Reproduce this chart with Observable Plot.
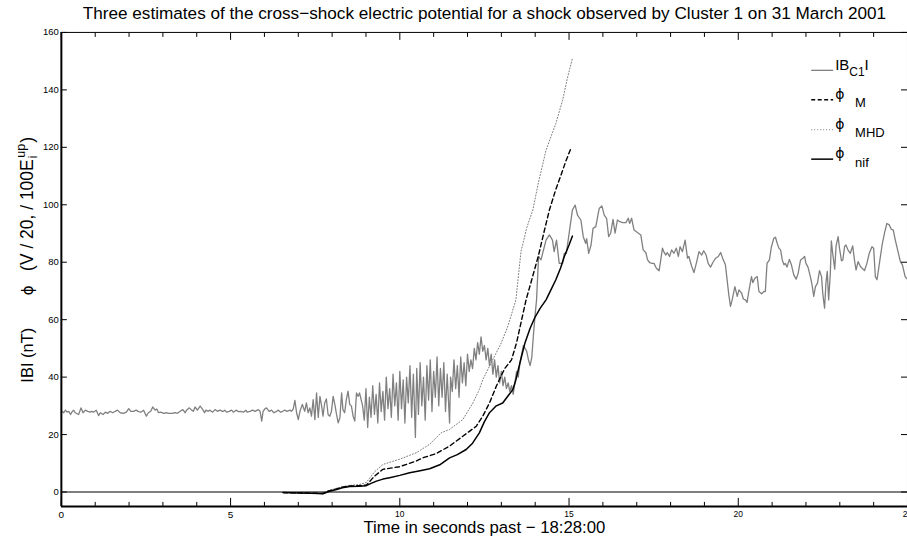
<!DOCTYPE html>
<html><head><meta charset="utf-8">
<script src="https://cdn.jsdelivr.net/npm/d3@7"></script>
<script src="https://cdn.jsdelivr.net/npm/@observablehq/plot@0.6"></script>
<style>
html,body{margin:0;padding:0;background:#fff;overflow:hidden}
#wrap{width:907px;height:539px;overflow:hidden;position:relative}
svg{font-family:"Liberation Sans",Arial,Helvetica,sans-serif}
</style></head><body><div id="wrap"></div>
<script>
// |B| from Cluster 1 (nT), [seconds past 18:28:00, value]
const bQuiet = [[0.00,27.6],[0.02,28.1],[0.07,27.6],[0.12,28.5],[0.17,27.8],[0.22,28.1],[0.27,27.0],[0.31,27.8],[0.36,28.5],[0.41,27.6],[0.51,27.0],[0.58,29.3],[0.64,27.6],[0.71,28.5],[0.78,28.1],[0.85,27.8],[0.90,28.1],[0.95,27.8],[1.03,28.5],[1.10,26.6],[1.15,27.6],[1.23,27.0],[1.30,27.8],[1.37,27.4],[1.44,28.1],[1.52,27.6],[1.59,28.1],[1.66,28.5],[1.74,27.6],[1.84,27.4],[1.92,27.8],[1.99,29.0],[2.05,28.1],[2.13,28.1],[2.21,28.5],[2.28,28.0],[2.35,27.8],[2.43,28.5],[2.51,26.4],[2.57,27.6],[2.64,28.1],[2.70,29.6],[2.77,28.5],[2.82,28.9],[2.87,27.6],[2.94,27.8],[3.02,27.4],[3.10,27.6],[3.16,27.4],[3.26,27.4],[3.36,27.6],[3.43,27.4],[3.51,28.1],[3.59,28.7],[3.66,27.6],[3.70,28.5],[3.78,29.3],[3.85,28.5],[3.90,28.1],[3.95,29.6],[4.02,28.5],[4.10,29.9],[4.18,28.7],[4.23,27.6],[4.27,28.5],[4.34,28.1],[4.39,28.5],[4.47,27.8],[4.54,28.7],[4.61,28.1],[4.69,28.5],[4.77,28.0],[4.83,28.5],[4.88,27.8],[4.96,28.1],[5.03,28.5],[5.08,27.8],[5.16,28.5],[5.23,28.0],[5.30,28.1],[5.38,27.8],[5.45,28.5],[5.49,27.8],[5.57,28.1],[5.65,28.5],[5.72,28.1],[5.82,28.7],[5.87,28.1],[5.92,24.7],[5.96,28.1],[6.01,28.9],[6.06,29.3],[6.14,28.1],[6.21,28.5],[6.28,27.6],[6.36,28.1],[6.41,28.5],[6.48,27.8],[6.54,28.1],[6.60,28.5],[6.67,28.1],[6.75,28.5],[6.80,28.1],[6.85,28.9]];
const bFoot = [[6.90,31.9],[6.95,27.6],[7.00,25.2],[7.05,28.1],[7.12,30.5],[7.19,28.1],[7.24,31.0],[7.29,27.6],[7.34,29.3],[7.39,26.4],[7.44,32.2],[7.49,25.2],[7.54,34.5],[7.59,26.0],[7.64,33.3],[7.69,29.9],[7.73,26.4],[7.78,31.0],[7.83,32.4],[7.88,27.0],[7.93,26.4],[7.98,28.1],[8.03,33.3],[8.08,30.5],[8.13,27.0],[8.18,24.1],[8.23,25.8],[8.28,34.5],[8.32,28.7],[8.37,27.6],[8.42,32.2],[8.47,35.1],[8.52,30.5],[8.57,29.9],[8.62,26.4],[8.67,24.7],[8.72,34.5],[8.77,33.3],[8.81,34.5],[8.9,30],[8.95,25],[9.0,36],[9.05,22.5],[9.1,33],[9.15,26],[9.2,37],[9.25,27],[9.3,34],[9.35,24],[9.4,38],[9.45,28],[9.5,35],[9.55,25],[9.6,40],[9.65,29],[9.7,36],[9.75,26],[9.8,41],[9.85,30],[9.9,38],[9.95,25],[10.0,42],[10.05,29],[10.1,39],[10.15,24],[10.2,40],[10.25,31],[10.3,44],[10.35,26],[10.4,41],[10.46,19],[10.5,43],[10.55,27],[10.6,45],[10.65,30],[10.7,40],[10.75,25],[10.8,44],[10.85,32],[10.9,46],[10.95,28],[11.0,42],[11.05,33],[11.1,47],[11.15,30],[11.2,43],[11.25,33],[11.3,45],[11.35,28],[11.4,41],[11.47,24],[11.5,40],[11.55,35],[11.6,46],[11.65,36],[11.7,44],[11.75,33],[11.8,47],[11.85,38],[11.9,45],[11.95,37],[12.0,48],[12.05,42],[12.1,46],[12.15,43],[12.2,50],[12.25,46],[12.3,52],[12.35,48],[12.4,54],[12.45,49],[12.5,51],[12.55,46],[12.6,50],[12.65,44],[12.7,48],[12.75,41],[12.8,46],[12.85,40],[12.9,44],[12.95,38],[13.0,42],[13.05,37],[13.1,40],[13.15,36],[13.2,38],[13.25,35],[13.3,37],[13.35,34],[13.4,38],[13.45,42],[13.5,40],[13.55,45],[13.6,48],[13.65,51],[13.7,50],[13.75,49],[13.8,46],[13.85,44],[13.9,47],[13.95,55],[14.0,62]];
const bRamp = [[14.04,66.9],[14.10,82.0],[14.17,80.8],[14.32,87.7],[14.42,89.5],[14.51,87.7],[14.56,83.7],[14.63,87.7],[14.71,79.6],[14.81,79.6],[14.86,83.1],[14.92,83.1],[15.03,92.4],[15.10,98.2],[15.18,99.9],[15.25,96.4],[15.35,94.7],[15.42,88.9],[15.49,86.6],[15.52,88.2],[15.58,83.1],[15.65,86.0],[15.71,91.8],[15.79,92.4]];
const bDown = [[15.89,98.7],[15.97,99.6],[16.04,96.4],[16.11,95.3],[16.17,88.9],[16.23,90.1],[16.30,94.9],[16.36,90.1],[16.43,94.7],[16.50,94.1],[16.58,93.8],[16.68,93.8],[16.75,95.3],[16.79,93.5],[16.85,95.3],[16.92,91.2],[17.05,90.1],[17.12,89.5],[17.19,84.3],[17.27,83.3],[17.32,80.8],[17.38,79.9],[17.46,79.6],[17.51,79.6],[17.58,77.9],[17.66,77.0],[17.71,80.8],[17.76,84.9],[17.81,83.4],[17.86,82.5],[17.90,83.4],[17.97,82.0],[18.03,84.3],[18.10,83.1],[18.17,84.9],[18.23,82.0],[18.28,85.4],[18.35,83.7],[18.43,87.7],[18.50,81.4],[18.54,82.0],[18.62,78.7],[18.69,76.4],[18.76,79.6],[18.84,83.7],[18.92,82.5],[18.98,84.0],[19.05,82.5],[19.11,79.6],[19.18,78.3],[19.25,79.9],[19.33,81.4],[19.41,82.0],[19.48,83.4],[19.55,81.0],[19.62,79.1],[19.72,68.7],[19.77,64.6],[19.82,66.9],[19.90,71.5],[19.97,68.1],[20.02,70.4],[20.10,69.2],[20.15,67.2],[20.21,66.9],[20.26,66.0],[20.31,69.8],[20.39,75.0],[20.43,72.9],[20.49,74.4],[20.56,75.0],[20.61,69.8],[20.69,69.0],[20.76,69.8],[20.80,69.8],[20.85,79.6],[20.92,80.8],[20.98,85.4],[21.05,88.3],[21.10,88.7],[21.15,86.6],[21.20,84.9],[21.25,84.3],[21.30,80.8],[21.35,79.1],[21.39,79.6],[21.44,78.3],[21.51,81.0],[21.57,79.1],[21.64,75.6],[21.71,74.1],[21.77,76.2],[21.84,80.8],[21.91,81.4],[21.96,82.0],[22.00,79.6],[22.06,78.3],[22.13,75.0],[22.18,72.1],[22.23,68.1],[22.28,71.5],[22.34,72.7],[22.40,77.1],[22.46,75.0],[22.50,68.7],[22.55,64.0],[22.59,72.7],[22.63,76.8],[22.67,66.9],[22.72,76.2],[22.75,87.4],[22.79,83.1],[22.85,77.6],[22.89,85.7],[22.95,88.9],[22.99,84.9],[23.05,80.5],[23.09,80.8],[23.14,85.4],[23.18,86.0],[23.24,84.3],[23.31,83.1],[23.38,85.7],[23.44,80.2],[23.48,77.3],[23.54,80.2],[23.61,78.5],[23.66,77.9],[23.73,77.1],[23.80,79.6],[23.87,83.1],[23.95,85.4],[24.00,84.9],[24.05,75.0],[24.10,73.9],[24.17,79.6],[24.25,86.0],[24.32,90.1],[24.39,93.5],[24.46,93.0],[24.52,91.5],[24.58,91.2],[24.64,87.7],[24.72,83.7],[24.79,80.2],[24.85,79.1],[24.93,75.0],[25.0,74.0]];

// Cross-shock potential estimates, [seconds, value]
const phiNif = [[6.55,-0.2],[7.0,-0.3],[7.4,-0.4],[7.73,-0.6],[7.9,0.2],[8.13,0.9],[8.3,1.5],[8.52,1.9],[8.8,2.0],[9.01,2.2],[9.15,3.0],[9.31,3.8],[9.5,4.5],[9.70,5.0],[10.0,5.8],[10.29,6.7],[10.6,7.4],[10.88,8.1],[11.2,9.6],[11.47,11.9],[11.7,13.0],[11.96,14.8],[12.15,17.0],[12.35,20.6],[12.5,24.5],[12.65,27.6],[12.85,30.0],[13.04,31.0],[13.2,33.5],[13.34,35.7],[13.43,39.1],[13.55,45],[13.7,52],[13.85,57],[14.0,61],[14.15,64],[14.32,66.9],[14.45,70],[14.61,73.9],[14.75,78],[14.86,82],[15.0,86],[15.1,89.1]];
const phiM = [[6.55,-0.2],[7.0,-0.3],[7.4,-0.4],[7.73,-0.5],[7.9,0.4],[8.13,1.1],[8.3,1.7],[8.52,2.1],[8.8,2.2],[9.01,2.4],[9.25,5.5],[9.50,7.9],[9.99,8.8],[10.49,10.8],[10.68,11.9],[11.08,13.4],[11.47,16.0],[11.86,19.4],[12.26,22.9],[12.45,26.4],[12.65,31.0],[12.85,36.8],[12.94,39.1],[13.1,43],[13.3,46],[13.45,52],[13.6,60],[13.73,66.9],[13.9,74],[14.1,82.5],[14.25,90],[14.42,98.2],[14.6,105],[14.76,110.3],[14.9,115],[15.07,120.1]];
const phiMhd = [[6.55,-0.2],[7.0,-0.3],[7.4,-0.4],[7.73,-0.4],[7.9,0.5],[8.13,1.3],[8.3,1.8],[8.52,2.3],[8.8,2.6],[9.01,3.3],[9.25,7],[9.5,9.6],[9.99,11.4],[10.49,13.7],[10.88,16.6],[11.22,20.6],[11.47,21.8],[11.86,25.2],[12.16,31.0],[12.35,35.7],[12.45,39.1],[12.7,45],[13.0,52],[13.2,58],[13.43,66.9],[13.58,83.7],[13.75,92],[13.93,98.2],[14.1,108],[14.32,119],[14.61,128.3],[14.81,136.4],[14.95,144],[15.1,151]];

const xTicksMinor = [0,1,2,3,4,6,7,8,9,11,12,13,14,16,17,18,19,21,22,23,24];
const xTicksMajorLarge = [0,5];
const xTicksMajorSmall = [10,15,20,25];
const xTicksMajor = [0,5,10,15,20,25];
const yTicks = [0,20,40,60,80,100,120,140,160];

const titleText = "Three estimates of the cross\u2212shock electric potential for a shock observed by Cluster 1 on 31 March 2001";
const xLabelText = "Time in seconds past \u2212 18:28:00";

const toRows = arr => arr.map(([t, v]) => ({t, v}));
const bRows = toRows([...bQuiet, ...bFoot, ...bRamp, ...bDown]);

const font = '"Liberation Sans", Arial, Helvetica, sans-serif';
const phiFont = '"DejaVu Sans", sans-serif';

const chart = Plot.plot({
  width: 909, height: 539,
  marginLeft: 61, marginRight: 0, marginTop: 32, marginBottom: 32,
  x: {domain: [0, 25], label: null},
  y: {domain: [-5, 160], label: null},
  style: {fontFamily: font, background: "white", color: "black"},
  marks: [
    Plot.line(bRows, {x: "t", y: "v", stroke: "#808080", strokeWidth: 1.3}),
    Plot.line(toRows(phiMhd), {x: "t", y: "v", stroke: "#7a7a7a", strokeWidth: 1, strokeDasharray: "1,2"}),
    Plot.line(toRows(phiM), {x: "t", y: "v", stroke: "black", strokeWidth: 1.4, strokeDasharray: "4.5,3"}),
    Plot.line(toRows(phiNif), {x: "t", y: "v", stroke: "black", strokeWidth: 1.5}),
    Plot.ruleY([0], {stroke: "black", strokeWidth: 1.2}),
    Plot.ruleY([160], {stroke: "black", strokeWidth: 1}),
    Plot.ruleX([25], {stroke: "black", strokeWidth: 1}),
    Plot.ruleX([0], {stroke: "black", strokeWidth: 2}),
    Plot.ruleY([-5], {stroke: "black", strokeWidth: 2}),
    Plot.axisY(yTicks, {anchor: "left", tickSize: -6, tickPadding: 8.5, fontSize: 9.5, label: null}),
    Plot.axisY(yTicks, {anchor: "right", tickSize: -7, tickFormat: () => "", label: null}),
    Plot.axisX(xTicksMinor, {anchor: "bottom", tickSize: -4, tickFormat: () => "", label: null}),
    Plot.axisX(xTicksMajorLarge, {anchor: "bottom", tickSize: -8, tickPadding: 12.5, fontSize: 10, label: null}),
    Plot.axisX(xTicksMajorSmall, {anchor: "bottom", tickSize: -8, tickPadding: 12.5, fontSize: 8.5, label: null}),
    Plot.axisX(xTicksMinor, {anchor: "top", tickSize: -4, tickFormat: () => "", label: null}),
    Plot.axisX(xTicksMajor, {anchor: "top", tickSize: -7, tickFormat: () => "", label: null}),
    Plot.text([titleText], {frameAnchor: "top", lineAnchor: "middle", dy: -19, fontSize: 17.2, fill: "black"}),
    Plot.text([xLabelText], {frameAnchor: "bottom", lineAnchor: "middle", dy: 21, fontSize: 16.8, fill: "black"})
  ]
});

document.getElementById("wrap").appendChild(chart);

// y-axis label with sub/superscripts
const svg = d3.select(chart);
const yl = svg.append("g").attr("font-family", font).attr("fill", "black");
yl.append("text").attr("transform", "translate(33,356) rotate(-90)")
  .attr("text-anchor", "middle").attr("font-size", 16.5).text("IBI (nT)");
const phiLbl = yl.append("text").attr("transform", "translate(33,296) rotate(-90)")
  .attr("text-anchor", "start").attr("font-size", 17.5);
phiLbl.append("tspan").attr("font-family", phiFont).attr("font-size", 15).text("\u03d5");
phiLbl.append("tspan").text("   (V / 20, / 100E");
phiLbl.append("tspan").attr("font-size", 12).attr("dx", 1).attr("dy", 4).text("i");
phiLbl.append("tspan").attr("font-size", 12.5).attr("dx", -2).attr("dy", -12).text("up");
phiLbl.append("tspan").attr("dx", 1).attr("dy", 8).text(")");

// legend
const legend = [
  {y: 70.5, stroke: "#808080", dash: null, width: 1.3, main: "IB", sub: "C1", tail: "I"},
  {y: 100, stroke: "black", dash: "4,2.5", width: 1.4, main: "\u03d5", sub: "M"},
  {y: 130, stroke: "#7a7a7a", dash: "1,2", width: 1, main: "\u03d5", sub: "MHD"},
  {y: 159.5, stroke: "black", dash: null, width: 1.5, main: "\u03d5", sub: "nif"}
];
const lg = svg.append("g").attr("font-family", font).attr("fill", "black").attr("text-anchor", "start");
legend.forEach((d, i) => {
  lg.append("line").attr("x1", 813).attr("x2", 835).attr("y1", d.y).attr("y2", d.y)
    .attr("stroke", d.stroke).attr("stroke-width", d.width).attr("stroke-dasharray", d.dash);
  if (i === 0) {
    const t = lg.append("text").attr("x", 837).attr("y", d.y).attr("font-size", 15);
    t.append("tspan").text(d.main);
    t.append("tspan").attr("font-size", 12).attr("dy", 5.5).text(d.sub);
    t.append("tspan").attr("dy", -5.5).text(d.tail);
  } else {
    lg.append("text").attr("x", 837).attr("y", d.y - 1).attr("font-size", 14)
      .attr("font-family", phiFont).text(d.main);
    lg.append("text").attr("x", 857).attr("y", d.y + 7.5).attr("font-size", 13).text(d.sub);
  }
});
</script></body></html>
